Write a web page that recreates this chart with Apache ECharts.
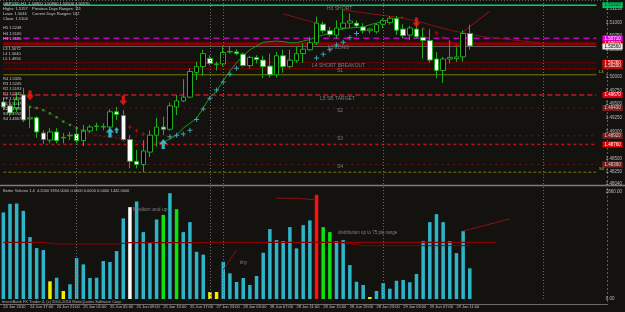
<!DOCTYPE html>
<html><head><meta charset="utf-8">
<script src="https://cdn.jsdelivr.net/npm/echarts@6/dist/echarts.min.js"></script>
<style>html,body{margin:0;padding:0;background:#13120f;}#c{width:625px;height:312px;}</style>
</head><body><div id="c"></div>
<script>
// ---------- DATA ----------
const tickLabels = ["24 Jun 2010","24 Jun 17:00","24 Jun 21:00","25 Jun 01:00","25 Jun 05:00","25 Jun 09:00","25 Jun 13:00","25 Jun 17:00","27 Jun 23:00","28 Jun 03:00","28 Jun 07:00","28 Jun 11:00","28 Jun 15:00","28 Jun 19:00","28 Jun 23:00","29 Jun 03:00","29 Jun 07:00","29 Jun 11:00"];
const opens  = [1.4954,1.4947,1.4943,1.4967,1.4923,1.4925,1.4897,1.4884,1.4899,1.4888,1.4892,1.4895,1.4883,1.4901,1.4909,1.4908,1.4908,1.4936,1.4929,1.4885,1.4845,1.4839,1.4862,1.4893,1.4908,1.4904,1.4945,1.4956,1.4963,1.5008,1.5019,1.5034,1.5023,1.5024,1.5046,1.5046,1.5042,1.5021,1.5036,1.5031,1.5020,1.5004,1.5039,1.5019,1.5030,1.5043,1.5050,1.5063,1.5097,1.5085,1.5077,1.5090,1.5099,1.5099,1.5092,1.5085,1.5083,1.5097,1.5100,1.5107,1.5088,1.5077,1.5088,1.5073,1.5067,1.5033,1.5012,1.5033,1.5034,1.5037,1.5080];
const highs  = [1.4961,1.4958,1.4972,1.4980,1.4945,1.4928,1.4902,1.4906,1.4906,1.4897,1.4899,1.4908,1.4912,1.4912,1.4916,1.4915,1.4941,1.4945,1.4939,1.4893,1.4866,1.4884,1.4902,1.4925,1.4927,1.4953,1.4967,1.4996,1.5016,1.5028,1.5050,1.5040,1.5028,1.5056,1.5056,1.5051,1.5045,1.5039,1.5040,1.5039,1.5043,1.5046,1.5050,1.5050,1.5056,1.5062,1.5074,1.5111,1.5102,1.5092,1.5104,1.5123,1.5117,1.5104,1.5099,1.5090,1.5099,1.5108,1.5112,1.5112,1.5097,1.5094,1.5102,1.5090,1.5088,1.5046,1.5037,1.5068,1.5056,1.5086,1.5096];
const lows   = [1.4939,1.4928,1.4936,1.4917,1.4906,1.4888,1.4877,1.4878,1.4878,1.4878,1.4884,1.4878,1.4873,1.4897,1.4901,1.4902,1.4906,1.4921,1.4882,1.4832,1.4832,1.4825,1.4853,1.4872,1.4893,1.4901,1.4930,1.4954,1.4961,1.4994,1.5002,1.5022,1.5012,1.5019,1.5043,1.5040,1.5019,1.5016,1.5025,1.4998,1.4999,1.4999,1.5008,1.5016,1.5026,1.5026,1.5048,1.5059,1.5080,1.5074,1.5071,1.5086,1.5090,1.5090,1.5080,1.5080,1.5080,1.5090,1.5096,1.5077,1.5071,1.5068,1.5071,1.5034,1.5026,1.4998,1.4989,1.5025,1.5028,1.5028,1.5050];
const closes = [1.4945,1.4934,1.4958,1.4921,1.4925,1.4899,1.4885,1.4899,1.4883,1.4889,1.4893,1.4883,1.4902,1.4908,1.4910,1.4909,1.4936,1.4931,1.4885,1.4845,1.4839,1.4864,1.4893,1.4908,1.4904,1.4947,1.4956,1.4963,1.5010,1.5019,1.5043,1.5025,1.5024,1.5045,1.5047,1.5043,1.5021,1.5036,1.5032,1.5019,1.5004,1.5039,1.5019,1.5031,1.5043,1.5051,1.5063,1.5099,1.5085,1.5078,1.5090,1.5099,1.5103,1.5094,1.5085,1.5088,1.5096,1.5104,1.5108,1.5086,1.5076,1.5090,1.5074,1.5067,1.5031,1.5012,1.5033,1.5036,1.5037,1.5080,1.5057];

const volumes = [2298,2526,2536,2340,1643,1352,1299,469,564,212,390,1087,920,557,564,1007,981,1272,2139,2438,2589,1776,1503,2112,2234,2809,2385,1776,2041,1253,1179,186,186,988,681,451,557,371,610,1227,1855,1564,1537,1908,1344,1961,2086,2764,1908,1776,1537,1564,901,458,371,53,212,424,273,485,504,443,663,1537,2041,2253,2041,1537,1219,1802,814];
const lowVolumeBars = [7,9,31,32,55];
const climaxDownBars = [19];
const churnBars = [24,26,48,49];
const climaxUpBars = [47];
const volAverage = [1505,1505,1505,1505,1505,1505,1505,1480,1460,1460,1460,1460,1460,1460,1460,1460,1460,1460,1480,1495,1495,1495,1495,1495,1495,1495,1495,1495,1495,1495,1495,1505,1505,1505,1505,1505,1505,1505,1505,1505,1505,1505,1505,1505,1505,1505,1505,1505,1505,1505,1505,1505,1505,1505,1505,1505,1505,1505,1505,1505,1505,1505,1505,1505,1505,1505,1505,1505,1505,1505,1505,1505,1505,1505,1505];
const volAverage2Start = 50;
const volAverage2 = [1500,1490,1465,1440,1420,1415,1415,1415,1415,1415,1415,1415,1415,1415,1415,1415,1415,1415,1415,1415,1415];

const maDownStart = 3;
const maDownVals = [1.4955,1.4945,1.4943,1.4939,1.4933,1.4926,1.4918,1.4912,1.4906,1.4901,1.4897,1.4893,1.4891,1.4890,1.4888,1.4886,1.4884,1.4882,1.4880,1.4879,1.4879,1.4880];
const maDownMarked = [4,5,6,7,8,9,10,11,12];
const maUpStart = 24;
const maUpVals = [1.4880,1.4886,1.4893,1.4906,1.4915,1.4924,1.4943,1.4963,1.4974,1.4993,1.5011,1.5026,1.5039,1.5050,1.5057,1.5064,1.5065,1.5066,1.5065,1.5063,1.5063,1.5066,1.5069,1.5074,1.5077,1.5081,1.5085,1.5089,1.5090,1.5091,1.5092,1.5096,1.5099,1.5103,1.5105,1.5108,1.5110];

const sarUpIdx  = [25,26,27,28,29,30,31,32,33,34,35,47,48,49,50,51,52,53];
const sarUpVals = [1.4890,1.4893,1.4895,1.4902,1.4922,1.4941,1.4961,1.4976,1.4991,1.5005,1.5016,1.5035,1.5042,1.5050,1.5059,1.5064,1.5072,1.5080];
const sarDnIdx  = [19,20,21,63,65,66,67,68];
const sarDnVals = [1.4908,1.4901,1.4895,1.5088,1.5081,1.5072,1.5064,1.5058];

const sellArrowIdx = [4,18,62];
const sellArrowVals = [1.4966,1.4957,1.5100];
const buyArrowIdx = [16,24];
const buyArrowVals = [1.4898,1.4877];
const smallBuyIdx = [17];
const smallBuyVals = [1.4902];

const trendA = [[51,1.5123],[59,1.5110],[62,1.5103],[64,1.5096],[67,1.5086],[72,1.5074],[81,1.5062]];
const trendB = [[42,1.5116],[47,1.5099]];
const trendC = [[69,1.5083],[73,1.5121]];
const volNoteA = [[33,770],[35,1301]];
const volNoteB = [[41,2675],[44,2675],[44,2650],[47,2630]];
const volNoteC = [[69,1805],[76,2124]];

const levelPrices = [1.5132,1.5071,1.5061,1.5056,1.5026,1.5020,1.5015,1.5004,1.4967,1.4943,1.4892,1.4876,1.4839,1.4825];
const dayBreaks = [11,31,33,57,81];
const priceTicks = [1.5125,1.5100,1.5075,1.5050,1.5025,1.5000,1.4975,1.4950,1.4925,1.4900,1.4875,1.4850,1.4825,1.4804];
const volTicks = [2860,0];

// ---------- STYLE / LAYOUT ----------
const N = 90;
const cats = Array.from({length:N},(_, i)=>String(i));
const FONT = 'Liberation Sans';
const pairs = (start, vals) => vals.map((v,k)=>[start+k, v]);
const zip = (idx, vals) => idx.map((x,k)=>[x, vals[k]]);

const levelLook = [
 {c:'#00d070', w:1.5, t:'solid', box:'#00c060', fg:'#003a1c'},
 {c:'#c000c0', w:1.5, t:[6,4], box:'#e000e0', fg:'#ffffff'},
 {c:'#8a0000', w:3, t:'solid', box:'#e00000', fg:'#ffffff'},
 {c:'#5e5e5e', w:1, t:'solid', box:'#e8e8e8', fg:'#000000'},
 {c:'#7a0000', w:1, t:'solid', box:'#e00000', fg:'#ffffff'},
 {c:'#7a0000', w:1, t:[2,3], box:'#b01010', fg:'#ffffff'},
 {c:'#8a0000', w:1, t:'solid', box:null},
 {c:'#7a7a00', w:1, t:'solid', box:null},
 {c:'#d0102a', w:1.5, t:[5,3], box:'#e00010', fg:'#ffffff'},
 {c:'#7a1010', w:1, t:[2,4], box:'#7a2020', fg:'#d0d0d0'},
 {c:'#7a1010', w:1, t:[2,4], box:'#7a2020', fg:'#d0d0d0'},
 {c:'#c01010', w:1.5, t:[3,3], box:'#e00000', fg:'#ffffff'},
 {c:'#7a1010', w:1, t:[2,4], box:'#7a2020', fg:'#d0d0d0'},
 {c:'#7a7a00', w:1, t:[3,2], box:null}
];

const volColor = i => climaxUpBars.includes(i) ? '#ff1010' : climaxDownBars.includes(i) ? '#ffffff' :
  churnBars.includes(i) ? '#10e010' : lowVolumeBars.includes(i) ? '#f0f000' : '#2fb3c9';

const ARROW_DOWN = 'path://M3,0 L7,0 L7,5 L10,5 L5,10 L0,5 L3,5 Z';
const ARROW_UP = 'path://M5,0 L10,5 L7,5 L7,10 L3,10 L3,5 L0,5 Z';
const PLUS = 'path://M4,0 L6,0 L6,4 L10,4 L10,6 L6,6 L6,10 L4,10 L4,6 L0,6 L0,4 L4,4 Z';

const sepLines = dayBreaks.map(b=>({xAxis:b, lineStyle:{color:'#6a6a6a', type:[1,2], width:1}, label:{show:false}}));

const levelSeries = levelPrices.map((p,k)=>{
  const L = levelLook[k];
  return {type:'line', xAxisIndex:0, yAxisIndex:0, data:[[0,p],[N-1,p]], symbol:'none', silent:true, z:1,
    lineStyle:{color:L.c, width:L.w, type:L.t}, animation:false,
    endLabel: L.box ? {show:true, distance:6, formatter:()=>p.toFixed(5), backgroundColor:L.box, color:L.fg,
      fontSize:4.5, fontFamily:FONT, padding:[1,2,0,2]} : {show:false}};
});

const tickInterval = (idx)=> idx%4===0 && idx/4 < tickLabels.length;

const texts = [
 [3,4,'GBPUSD,H1  1.50800 1.50960 1.50500 1.50570','#d0d0d0',4],
 [3,9.3,'Highs: 1.5157','#c8c8c8',4],[32,9.3,'Previous Days Ranges: 111','#c8c8c8',4],
 [3,14,'Lows: 1.5046','#c8c8c8',4],[32,14,'Current Days Ranges: 102','#c8c8c8',4],
 [3,19,'Close: 1.5104','#c8c8c8',4],
 [3,28.3,'H5 1.5248','#c8c8c8',4],[3,33.7,'H4 1.5165','#c8c8c8',4],[3,39,'H3 1.5126','#c8c8c8',4],
 [3,49.3,'L3 1.5072','#c8c8c8',4],[3,54.3,'L4 1.5040','#c8c8c8',4],[3,58.7,'L5 1.4956','#c8c8c8',4],
 [3,79,'R4 1.5326','#c8c8c8',4],[3,84.3,'R3 1.5245','#c8c8c8',4],[3,89.3,'R2 1.5193','#c8c8c8',4],
 [3,94.3,'R1 1.5145','#c8c8c8',4],[3,99.3,'PP 1.5098','#c8c8c8',4],[3,104.3,'S1 1.5047','#c8c8c8',4],
 [3,109.3,'S2 1.4995','#c8c8c8',4],[3,114.3,'S3 1.4952','#c8c8c8',4],[3,119.3,'S4 1.4867','#c8c8c8',4],
 [327,9,'H3 SHORT','#7a7a7a',5],[328,47.5,'L3 LONG','#7a7a7a',5],[312,66,'L4 SHORT BREAKOUT','#7a7a7a',5],
 [337,71,'S1','#7a7a7a',5],[320,98.5,'L5 SB TARGET','#7a7a7a',5],[337,111,'S2','#7a7a7a',5],
 [337,139,'S3','#7a7a7a',5],[337,167,'S4','#7a7a7a',5],
 [599,71.5,'L3','#c8c800',4],[599,169,'S4','#c8c800',4],
 [3,191,'Better Volume 1.4  4.2000 3394.0000 0.0000 0.0000 0.0000 1442.0000','#c0c0c0',4],
 [133,209.5,'Medium and up','#808080',5],[338,233,'distribution up to 75 pip range','#808080',4.5],
 [240,263,'tiny','#808080',4.5],
 [2,301.5,'InvestBank FX Trader 4, (c) 2001-2010 MetaQuotes Software Corp.','#b0b0b0',4]
];

const chart = echarts.init(document.getElementById('c'), null, {renderer:'canvas', width:625, height:312});
const line = (xi, data, color, width, type, z) => ({type:'line', xAxisIndex:xi, yAxisIndex:xi, data, symbol:'none',
  lineStyle:{color, width, type}, silent:true, z, animation:false});

chart.setOption({
  backgroundColor:'#13120f',
  animation:false,
  grid:[{left:-1.375, top:0, width:607.5, height:184}, {left:-1.375, top:186, width:607.5, height:113}],
  xAxis:[
    {type:'category', data:cats, gridIndex:0, axisLine:{show:false}, axisTick:{show:false}, axisLabel:{show:false}, splitLine:{show:false}},
    {type:'category', data:cats, gridIndex:1, axisLine:{show:false}, axisTick:{show:false}, splitLine:{show:false},
     axisLabel:{interval:tickInterval, formatter:(v,idx)=>tickInterval(idx)?tickLabels[idx/4]:'', align:'left',
       color:'#c0c0c0', fontSize:4, fontFamily:FONT, margin:6}}
  ],
  yAxis:[
    {type:'value', gridIndex:0, position:'right', min:1.48033, max:1.51415, splitLine:{show:false}, axisLine:{show:false}, axisTick:{show:false},
     axisLabel:{customValues:priceTicks, formatter:v=>v.toFixed(5), color:'#b8b8b8', fontSize:4.5, fontFamily:FONT, margin:6}},
    {type:'value', gridIndex:1, position:'right', min:0, max:3000, splitLine:{show:false}, axisLine:{show:false}, axisTick:{show:false},
     axisLabel:{customValues:volTicks, formatter:v=>v.toFixed(2), color:'#b8b8b8', fontSize:4.5, fontFamily:FONT, margin:6}}
  ],
  series:[
    ...levelSeries,
    line(0, pairs(maDownStart, maDownVals), '#8a1010', 1, [2,2], 2),
    Object.assign(line(0, pairs(maUpStart, maUpVals), '#179a17', 1, 'solid', 2),
      {markLine:{symbol:['none','none'], silent:true, animation:false, data:sepLines}}),
    line(0, trendA, '#8a1010', 1, 'solid', 2),
    line(0, trendB, '#8a1010', 1, 'solid', 2),
    line(0, trendC, '#a01010', 1, 'solid', 2),
    {type:'candlestick', xAxisIndex:0, yAxisIndex:0, barWidth:5, z:3, silent:true,
     data: opens.map((o,i)=>[o, closes[i], lows[i], highs[i]]),
     itemStyle:{color:'#000000', color0:'#ffffff', borderColor:'#1eae1e', borderColor0:'#1eae1e', borderWidth:1}},
    {type:'scatter', xAxisIndex:0, yAxisIndex:0, symbol:'rect', symbolSize:2.5, z:4, silent:true,
     itemStyle:{color:'#1eae1e'}, data: maDownMarked.map(i=>[i, maDownVals[i-maDownStart]])},
    {type:'scatter', xAxisIndex:0, yAxisIndex:0, symbol:PLUS, symbolSize:5, z:4, silent:true,
     itemStyle:{color:'#3cc8dc'}, data: zip(sarUpIdx, sarUpVals)},
    {type:'scatter', xAxisIndex:0, yAxisIndex:0, symbol:PLUS, symbolSize:4, z:4, silent:true,
     itemStyle:{color:'#e01010'}, data: zip(sarDnIdx, sarDnVals)},
    {type:'scatter', xAxisIndex:0, yAxisIndex:0, symbol:ARROW_DOWN, symbolSize:[8,10], z:5, silent:true,
     itemStyle:{color:'#ff1818'}, data: zip(sellArrowIdx, sellArrowVals)},
    {type:'scatter', xAxisIndex:0, yAxisIndex:0, symbol:ARROW_UP, symbolSize:[8,10], z:5, silent:true,
     itemStyle:{color:'#40d8e8'}, data: zip(buyArrowIdx, buyArrowVals)},
    {type:'scatter', xAxisIndex:0, yAxisIndex:0, symbol:ARROW_UP, symbolSize:[5,6], z:5, silent:true,
     itemStyle:{color:'#40d8e8'}, data: zip(smallBuyIdx, smallBuyVals)},
    // volume pane
    {type:'bar', xAxisIndex:1, yAxisIndex:1, barWidth:3.5, z:2, silent:true,
     data: volumes.map((v,i)=>({value:v, itemStyle:{color:volColor(i)}}))},
    Object.assign(line(1, volAverage.map((v,i)=>[i,v]), '#8a0000', 1.2, 'solid', 3),
      {markLine:{symbol:['none','none'], silent:true, animation:false, data:sepLines}}),
    line(1, pairs(volAverage2Start, volAverage2), '#8a0000', 1, 'solid', 3),
    line(1, volNoteA, '#8a1010', 1, 'solid', 3),
    line(1, volNoteB, '#8a1010', 1, 'solid', 3),
    line(1, volNoteC, '#8a1010', 1, 'solid', 3)
  ],
  graphic:[
    {type:'line', shape:{x1:0,y1:0.5,x2:607,y2:0.5}, style:{stroke:'#5a5a5a', lineDash:[1,2], lineWidth:1}, silent:true},
    {type:'line', shape:{x1:0,y1:185.5,x2:625,y2:185.5}, style:{stroke:'#7c7c7c', lineWidth:1.5}, silent:true},
    {type:'line', shape:{x1:0,y1:304.5,x2:607,y2:304.5}, style:{stroke:'#6a6a6a', lineWidth:1}, silent:true},
    {type:'line', shape:{x1:607.5,y1:0,x2:607.5,y2:305}, style:{stroke:'#5a5a5a', lineDash:[2,2], lineWidth:1}, silent:true},
    ...texts.map(t=>({type:'text', x:t[0], y:t[1], silent:true, z:10,
      style:{text:t[2], fill:t[3], fontSize:t[4], fontFamily:FONT, verticalAlign:'middle', align:'left'}}))
  ]
});
</script></body></html>
